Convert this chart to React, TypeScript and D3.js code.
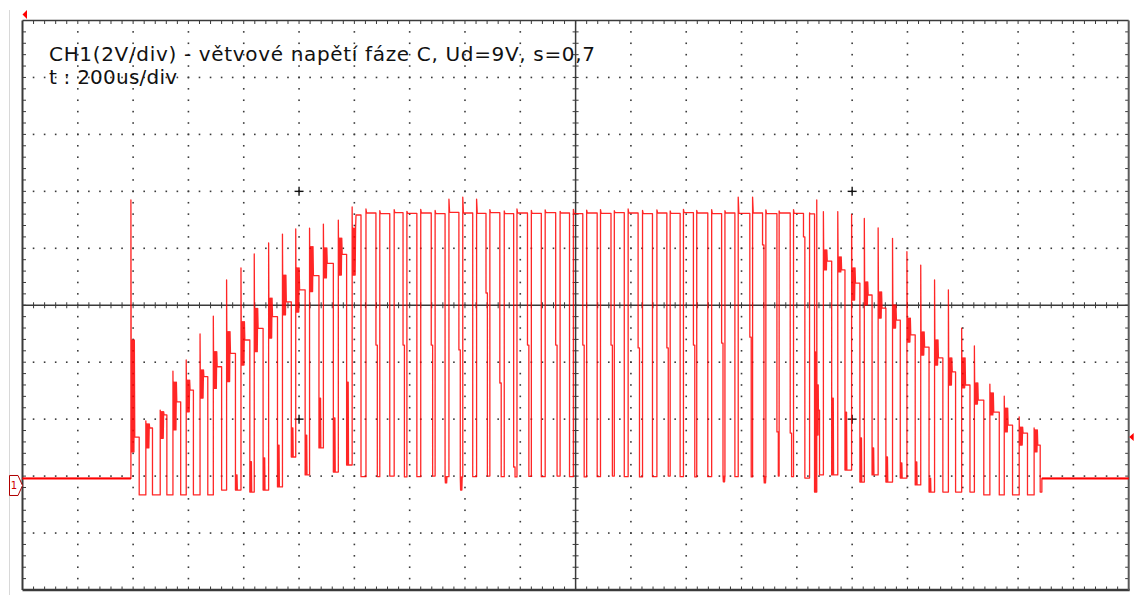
import React from 'react';
import * as d3 from 'd3';

// ---- chart text ----
const titleLine1 = 'CH1(2V/div) - větvové napětí fáze C, Ud=9V, s=0,7';
const titleLine2 = 't : 200us/div';

// ---- axes (time in µs, voltage in V; 2 V per vertical division) ----
const timeDomain: [number, number] = [0, 2000];
const voltDomain: [number, number] = [-4, 16];
const timeStep = 100;
const voltStep = 2;
const cursorTimes = [500, 1500];
const cursorVolts = [10, 2];
const triggerLevelV = 1.37;
const channelOffsetV = -0.33;

// ---- trace: idle level and PWM pulses ----
const baselineV = -0.08;
const burstEndT = 1843;

const riseT = [
  196, 223, 249, 272, 296, 321, 345, 369, 395, 419, 445, 470, 494, 519, 544, 571, 596,
  621, 646, 672, 695, 720, 746, 771, 796, 821, 845, 871, 894, 920, 945, 972, 996, 1020, 1045, 1070,
  1095, 1121, 1147, 1171, 1195, 1219, 1246, 1270, 1294, 1320, 1344, 1368, 1394,
  1423, 1436, 1448, 1474, 1499, 1522, 1547, 1573, 1599, 1624, 1649, 1674, 1698, 1721, 1749, 1775, 1802, 1829,
];
const fallT = [
  211, 235, 261, 286, 309, 335, 360, 385, 411, 435, 461, 486, 511, 536, 562, 586, 612,
  639, 664, 688, 713, 739, 764, 789, 814, 838, 863, 888, 913, 938, 964, 989, 1013, 1039, 1064, 1088,
  1113, 1139, 1165, 1189, 1213, 1239, 1264, 1288, 1315, 1338, 1364, 1388, 1412,
  1432, 1441, 1463, 1487, 1514, 1536, 1561, 1587, 1614, 1639, 1664, 1687, 1713, 1738, 1766, 1790, 1817, 1840,
];
const spikeV = [
  9.7, 1.94, 2.32, 3.69, 4.08, 4.99, 5.62, 6.89, 7.31, 7.8, 8.19, 8.5, 8.68, 8.71, 8.85, 8.99, 9.45,
  9.38, 9.32, 9.36, 9.3, 9.37, 9.33, 9.73, 9.8, 9.73, 9.36, 9.31, 9.38, 9.33, 9.35, 9.3, 9.37, 9.34, 9.36,
  9.32, 9.38, 9.33, 9.35, 9.31, 9.37, 9.33, 9.36, 9.32, 9.8, 9.8, 9.35, 9.31, 9.36,
  9.24, 9.7, 9.29, 9.29, 9.19, 9.05, 8.72, 8.35, 7.88, 7.41, 6.89, 6.54, 5.2, 4.57, 3.23, 2.81, 2.08, 1.69,
];
const plateauV = [
  1.37, 1.69, 2.15, 2.61, 3.02, 3.49, 3.84, 4.31, 4.78, 5.19, 5.6, 6.12, 6.54, 7.04, 7.47, 7.79, 9.17,
  9.24, 9.22, 9.25, 9.23, 9.24, 9.22, 9.26, 9.24, 9.23, 9.25, 9.22, 9.24, 9.23, 9.25, 9.24, 9.22, 9.24, 9.23,
  9.25, 9.24, 9.22, 9.24, 9.23, 9.25, 9.24, 9.22, 9.24, 9.23, 9.24, 9.22, 9.24, 9.23,
  9.21, 2.32, 7.55, 7.24, 6.78, 6.36, 5.9, 5.48, 4.96, 4.53, 4.15, 3.66, 3.2, 2.67, 2.25, 1.79, 1.51, 1.09,
];
const N = null;
const ringHiV: (number | null)[] = [
  4.78, 1.83, 2.26, 3.3, 3.37, 3.73, 4.37, 5.07, 5.42, 5.89, 6.25, 7.06, 7.31, 8.06, 8.01, 8.36, 8.71,
  N, N, N, N, N, N, N, N, N, N, N, N, N, N, N, N, N, N, N, N, N, N, N, N, N, N, N, N, N, N, N, N,
  N, 3.2, 7.94, 7.7, 7.31, 6.82, 6.47, 6.01, 5.55, 5.06, 4.78, 4.15, 4.15, 3.27, 2.92, 2.39, 1.72, 1.62,
];
const ringLoV: (number | null)[] = [
  0.85, 0.99, 1.33, 1.62, 2.26, 2.74, 3.08, 3.32, 3.9, 4.37, 4.85, 5.66, 5.76, 6.48, 6.96, 7.06, 7.06,
  N, N, N, N, N, N, N, N, N, N, N, N, N, N, N, N, N, N, N, N, N, N, N, N, N, N, N, N, N, N, N, N,
  N, 1.44, 7.24, 7.17, 6.18, 6.01, 5.55, 5.2, 4.71, 4.25, 3.9, 3.2, 3.1, 2.53, 2.15, 1.55, 1.09, 0.85,
];
const stepV: (number | null)[] = [
  N, N, N, N, N, N, N, N, N, N, N, N, N, N, N, N, N,
  4.6, N, 4.6, N, 4.6, N, 4.43, N, 6.43, 3.27, 0.32, 4.6, N, 4.6, N, 4.6, N, 4.6,
  N, 4.5, N, 4.5, N, 4.6, N, 4.67, N, 4.88, 8.12, 1.55, 1.51, 8.4,
  N, N, N, N, N, N, N, N, N, N, N, N, N, N, N, N, N, N,
];
const lowV = [
  -0.66, -0.66, -0.66, -0.66, -0.66, -0.66, -0.49, -0.49, -0.56, -0.49, -0.38, 0.67, 0.04, 0.99, 0.14, 0.39, -0.02,
  -0.02, 0.0, -0.03, -0.02, 0.0, -0.02, -0.03, -0.02, 0.0, -0.02, -0.03, -0.01, -0.02, 0.0, -0.02, -0.03, -0.02, 0.0,
  -0.02, -0.03, -0.02, 0.0, -0.02, -0.03, -0.02, 0.0, -0.02, -0.03, -0.02, 0.0, -0.02, -0.07,
  -0.56, 0.04, 0.04, 0.21, -0.21, 0.04, -0.21, -0.07, -0.31, -0.56, -0.56, -0.56, -0.56, -0.66, -0.66, -0.66, -0.66, -0.56,
];
const dipV: (number | null)[] = [
  N, N, N, N, N, N, N, 0.04, 0.51, 0.64, 1.09, 1.69, 1.44, 2.74, 2.04, 3.3, N,
  N, N, N, N, N, -0.24, -0.49, N, N, N, N, N, N, N, N, N, N, N,
  N, N, N, N, N, N, N, -0.2, N, N, -0.24, N, N, N,
  4.36, N, 2.74, 2.25, 1.34, 0.99, 0.67, 0.46, 0.5, -0.07, N, N, N, N, N, N, N, N,
];

// ---- layout ----
const W = 1134;
const H = 595;
const plot = { left: 22.5, right: 1128.7, top: 20.5, bottom: 590 };
const RING_DUR = 7;
const DIP_DUR = 4;
const STEP_DUR = 2.5;
const RED = '#ff0000';
const GRID = '#3a3a3a';
const FONT = "'DejaVu Sans', Verdana, sans-serif";

const x = d3.scaleLinear().domain(timeDomain).range([plot.left, plot.right]);
const y = d3.scaleLinear().domain(voltDomain).range([plot.bottom, plot.top]);

function buildTrace(): [number, number][] {
  const pts: [number, number][] = [[timeDomain[0], baselineV]];
  let prevLow = baselineV;
  for (let i = 0; i < riseT.length; i++) {
    const r = riseT[i];
    const f = fallT[i];
    pts.push([r, prevLow]);
    pts.push([r, spikeV[i]]);
    const hi = ringHiV[i];
    const lo = ringLoV[i];
    if (hi != null && lo != null) {
      const dur = Math.min(RING_DUR, (f - r) * 0.6);
      const n = 8;
      for (let k = 0; k < n; k++) pts.push([r + ((k + 1) * dur) / (n + 1), k % 2 === 0 ? lo : hi]);
      pts.push([r + dur, plateauV[i]]);
    } else {
      pts.push([r + 1.2, plateauV[i]]);
    }
    pts.push([f, plateauV[i]]);
    let fe = f;
    const s = stepV[i];
    if (s != null) {
      pts.push([f, s]);
      fe = f + STEP_DUR;
      pts.push([fe, s]);
    }
    pts.push([fe, lowV[i]]);
    const d = dipV[i];
    if (d != null) {
      const n = 6;
      for (let k = 0; k < n; k++) pts.push([fe + ((k + 1) * DIP_DUR) / (n + 1), k % 2 === 0 ? d : lowV[i]]);
      pts.push([fe + DIP_DUR, lowV[i]]);
    }
    prevLow = lowV[i];
  }
  pts.push([burstEndT, prevLow]);
  pts.push([burstEndT, baselineV]);
  pts.push([timeDomain[1], baselineV]);
  return pts;
}

export default function App() {
  const line = d3
    .line<[number, number]>()
    .x((d) => x(d[0]))
    .y((d) => y(d[1]));
  const tracePath = line(buildTrace()) || '';

  const majorT = d3.range(timeDomain[0], timeDomain[1] + 0.01, timeStep);
  const majorV = d3.range(voltDomain[0], voltDomain[1] + 0.01, voltStep);
  const minorT = d3.range(timeDomain[0], timeDomain[1] + 0.01, timeStep / 5);
  const minorV = d3.range(voltDomain[0], voltDomain[1] + 0.01, voltStep / 5);
  const centerT = (timeDomain[0] + timeDomain[1]) / 2;
  const centerV = (voltDomain[0] + voltDomain[1]) / 2;

  const dots: JSX.Element[] = [];
  majorV.slice(1, -1).forEach((v) => {
    if (Math.abs(v - centerV) < 1e-6) return;
    minorT.slice(1, -1).forEach((t) => {
      dots.push(<rect key={`h${v}-${t}`} x={x(t) - 0.8} y={y(v) - 0.8} width={1.6} height={1.6} fill={GRID} />);
    });
  });
  majorT.slice(1, -1).forEach((t) => {
    if (Math.abs(t - centerT) < 1e-6) return;
    minorV.slice(1, -1).forEach((v) => {
      dots.push(<rect key={`v${t}-${v}`} x={x(t) - 0.8} y={y(v) - 0.8} width={1.6} height={1.6} fill={GRID} />);
    });
  });

  const ticks: JSX.Element[] = [];
  minorT.slice(1, -1).forEach((t) => {
    ticks.push(<line key={`tt${t}`} x1={x(t)} x2={x(t)} y1={plot.top} y2={plot.top + 3.5} stroke={GRID} strokeWidth={1} />);
    ticks.push(<line key={`tb${t}`} x1={x(t)} x2={x(t)} y1={plot.bottom} y2={plot.bottom - 3.5} stroke={GRID} strokeWidth={1} />);
    ticks.push(<line key={`tc${t}`} x1={x(t)} x2={x(t)} y1={y(centerV) - 3} y2={y(centerV) + 3} stroke={GRID} strokeWidth={1} />);
  });
  minorV.slice(1, -1).forEach((v) => {
    ticks.push(<line key={`tl${v}`} x1={plot.left} x2={plot.left + 3.5} y1={y(v)} y2={y(v)} stroke={GRID} strokeWidth={1} />);
    ticks.push(<line key={`tr${v}`} x1={plot.right} x2={plot.right - 3.5} y1={y(v)} y2={y(v)} stroke={GRID} strokeWidth={1} />);
    ticks.push(<line key={`tm${v}`} x1={x(centerT) - 3} x2={x(centerT) + 3} y1={y(v)} y2={y(v)} stroke={GRID} strokeWidth={1} />);
  });

  const crosses: JSX.Element[] = [];
  cursorTimes.forEach((t) =>
    cursorVolts.forEach((v) => {
      crosses.push(
        <g key={`c${t}-${v}`} stroke="#111" strokeWidth={1.4}>
          <line x1={x(t) - 4.5} x2={x(t) + 4.5} y1={y(v)} y2={y(v)} />
          <line x1={x(t)} x2={x(t)} y1={y(v) - 4.5} y2={y(v) + 4.5} />
        </g>
      );
    })
  );

  const chY = y(channelOffsetV);
  const trY = y(triggerLevelV);

  return (
    <svg width={W} height={H} style={{ position: 'absolute', left: 0, top: 0, background: '#fff' }}>
      <rect x={0} y={0} width={W} height={H} fill="#fff" />
      <line x1={9.5} x2={9.5} y1={10} y2={H} stroke="#d8d8d8" strokeWidth={1} />
      {dots}
      {/* center lines */}
      <line x1={plot.left} x2={plot.right} y1={y(centerV)} y2={y(centerV)} stroke={GRID} strokeWidth={1.5} />
      <line x1={x(centerT)} x2={x(centerT)} y1={plot.top} y2={plot.bottom} stroke={GRID} strokeWidth={1.5} />
      {ticks}
      {/* frame */}
      <line x1={plot.left} x2={plot.right} y1={plot.top} y2={plot.top} stroke={GRID} strokeWidth={1.5} />
      <line x1={plot.left} x2={plot.right + 1} y1={plot.bottom} y2={plot.bottom} stroke={GRID} strokeWidth={2.5} />
      <line x1={plot.left} x2={plot.left} y1={plot.top} y2={plot.bottom} stroke={GRID} strokeWidth={2} />
      <line x1={plot.right} x2={plot.right} y1={plot.top} y2={plot.bottom} stroke="#5a5a5a" strokeWidth={2} />
      {crosses}
      {/* text */}
      <text x={49} y={61.3} fontFamily={FONT} fontSize={20} fill="#111" textLength={546} lengthAdjust="spacing">
        {titleLine1}
      </text>
      <text x={49} y={83.5} fontFamily={FONT} fontSize={20} fill="#111" textLength={128} lengthAdjust="spacing">
        {titleLine2}
      </text>
      {/* idle baseline thickness */}
      <line x1={x(timeDomain[0])} x2={x(riseT[0])} y1={y(baselineV)} y2={y(baselineV)} stroke={RED} strokeWidth={2} />
      <line x1={x(burstEndT)} x2={x(timeDomain[1])} y1={y(baselineV)} y2={y(baselineV)} stroke={RED} strokeWidth={2} />
      {/* trace */}
      <path d={tracePath} fill="none" stroke={RED} strokeWidth={1.3} strokeLinejoin="round" strokeOpacity={0.85} />
      {/* trigger position marker */}
      <path d={`M${x(timeDomain[0])},14.5 L${x(timeDomain[0]) + 4.5},10 L${x(timeDomain[0]) + 4.5},19 Z`} fill={RED} />
      {/* trigger level marker */}
      <path d={`M${plot.right + 0.5},${trY} L${plot.right + 5},${trY - 4} L${plot.right + 5},${trY + 4} Z`} fill={RED} />
      {/* channel 1 marker */}
      <path
        d={`M9.5,${chY - 10} L18,${chY - 10} L22.5,${chY} L18,${chY + 10} L9.5,${chY + 10} Z`}
        fill="#fff"
        stroke="#b00000"
        strokeWidth={1}
      />
      <text x={14} y={chY + 4} textAnchor="middle" fontFamily={FONT} fontSize={10} fill="#d00000">
        1
      </text>
    </svg>
  );
}
